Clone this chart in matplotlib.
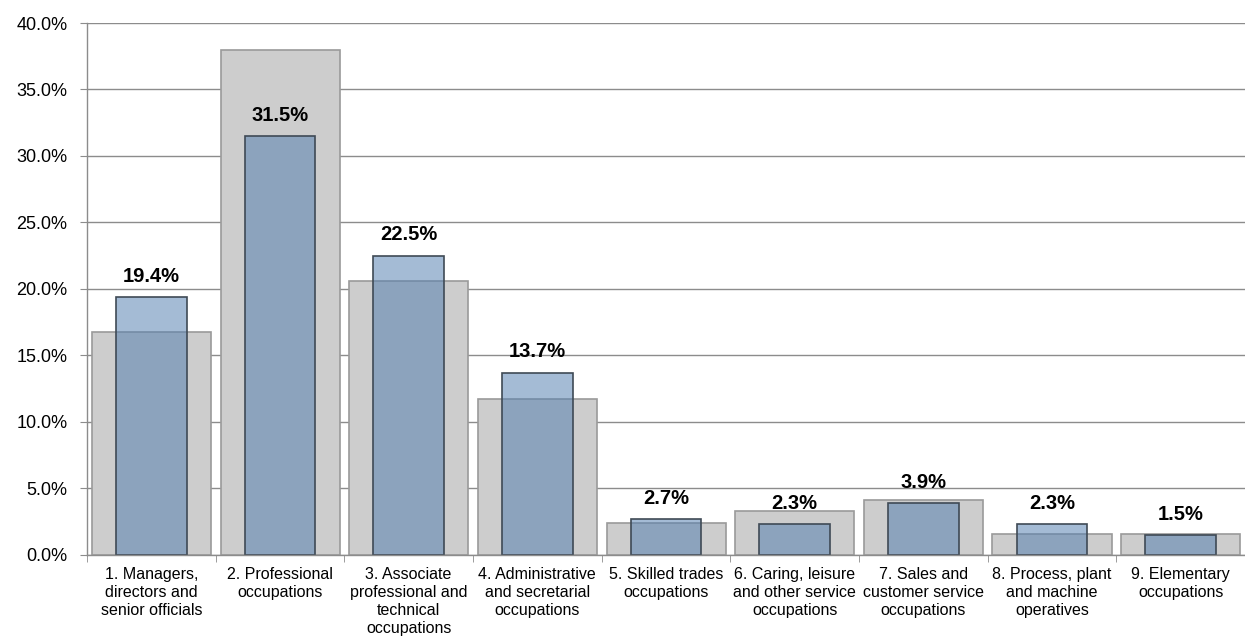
import matplotlib.pyplot as plt
import numpy as np
from matplotlib.ticker import FuncFormatter, FixedLocator

plt.rcParams['font.family'] = ['Liberation Sans', 'DejaVu Sans']

categories = [
    "1. Managers,\ndirectors and\nsenior officials",
    "2. Professional\noccupations",
    "3. Associate\nprofessional and\ntechnical\noccupations",
    "4. Administrative\nand secretarial\noccupations",
    "5. Skilled trades\noccupations",
    "6. Caring, leisure\nand other service\noccupations",
    "7. Sales and\ncustomer service\noccupations",
    "8. Process, plant\nand machine\noperatives",
    "9. Elementary\noccupations",
]
background_share = [16.8, 38.0, 20.6, 11.7, 2.4, 3.3, 4.1, 1.6, 1.6]
group_share = [19.4, 31.5, 22.5, 13.7, 2.7, 2.3, 3.9, 2.3, 1.5]

x = np.arange(len(categories))

fig = plt.figure(figsize=(12.45, 6.39), dpi=100)
ax = fig.add_axes([0.0699, 0.1315, 0.9301, 0.8325])

# gridlines behind bars
ax.set_axisbelow(True)
ax.yaxis.grid(True, color='#8c8c8c', linewidth=1.0)

# wide grey bars (background) and narrow blue bars on top
ax.bar(x, background_share, width=0.925, color='#cdcdcd',
       edgecolor='#9a9a9a', linewidth=1.2)
ax.bar(x, group_share, width=0.55, color=(82/255, 126/255, 176/255, 0.52),
       edgecolor='#3f4a55', linewidth=1.2)

# value labels above blue bars
for xi, v in zip(x, group_share):
    ax.annotate(f"{v:.1f}%", (xi, v), xytext=(0, 15), textcoords='offset points',
                ha='center', va='center', fontsize=14.5, fontweight='bold')

ax.set_xlim(-0.5, len(categories) - 0.5)
ax.set_ylim(0, 40)
ax.set_yticks(np.arange(0, 41, 5))
ax.yaxis.set_major_formatter(FuncFormatter(lambda v, p: f"{v:.1f}%"))
ax.tick_params(axis='y', length=5, color='#8c8c8c', labelsize=13, pad=9)

# category labels with tick marks between categories
ax.set_xticks(x)
ax.set_xticklabels(categories, fontsize=11.5, linespacing=1.25)
ax.tick_params(axis='x', which='major', length=0, pad=9)
ax.xaxis.set_minor_locator(FixedLocator(np.arange(-0.5, len(categories), 1.0)))
ax.tick_params(axis='x', which='minor', length=5, color='#8c8c8c')

for s in ['top', 'right']:
    ax.spines[s].set_visible(False)
for s in ['left', 'bottom']:
    ax.spines[s].set_color('#8c8c8c')
    ax.spines[s].set_linewidth(1.0)

fig.savefig('out.png', dpi=100)
